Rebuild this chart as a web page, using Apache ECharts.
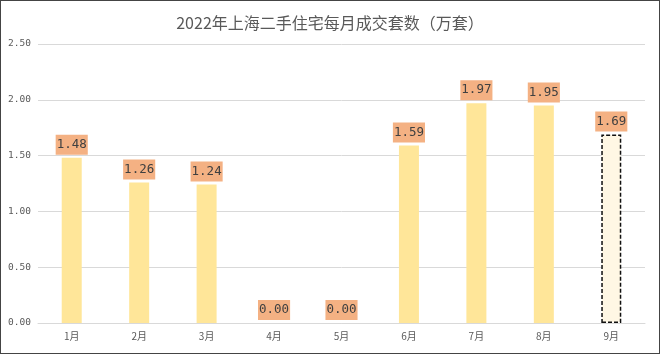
<!DOCTYPE html>
<html>
<head>
<meta charset="utf-8">
<script src="https://cdn.jsdelivr.net/npm/echarts@6/dist/echarts.min.js"></script>
<style>
html, body { margin: 0; padding: 0; background: #fff; }
#echart_box { width: 660px; height: 354px; box-sizing: border-box; border: 1px solid #444; }
</style>
</head>
<body>
<div id="echart_box"></div>
<script>
let months = ['1月', '2月', '3月', '4月', '5月', '6月', '7月', '8月', '9月']
let values = [1.48, 1.26, 1.24, 0.00, 0.00, 1.59, 1.97, 1.95, 1.69]
let estimatedIndex = 8   // 9月 是预估值，虚线框

let myChart = echarts.init(document.getElementById('echart_box'))
let barData = values.map((v, i) => {
    if (i === estimatedIndex) {
        return {
            value: v,
            itemStyle: {
                color: '#FFF7E4',
                borderColor: '#111',
                borderWidth: 1.5,
                borderType: [4, 2]
            }
        }
    }
    return v
})
let option = {
    title: {
        text: '2022年上海二手住宅每月成交套数（万套）',
        left: 'center',
        top: 9,
        textStyle: {
            fontFamily: 'Noto Sans CJK SC',
            fontSize: 16,
            fontWeight: 'normal',
            color: '#595959'
        }
    },
    grid: {
        left: 37,
        right: 14,
        top: 43,
        bottom: 30
    },
    xAxis: {
        type: 'category',
        data: months,
        axisLine: { lineStyle: { color: '#d9d9d9' } },
        axisTick: { show: false },
        axisLabel: {
            color: '#595959',
            fontSize: 10,
            fontFamily: 'Noto Sans CJK SC',
            margin: 8
        }
    },
    yAxis: {
        type: 'value',
        min: 0,
        max: 2.5,
        interval: 0.5,
        axisLine: { show: false },
        axisTick: { show: false },
        splitLine: { lineStyle: { color: '#d9d9d9' } },
        axisLabel: {
            color: '#595959',
            fontSize: 9.5,
            fontFamily: 'DejaVu Sans Mono',
            margin: 7,
            formatter: function (v) { return v.toFixed(2) }
        }
    },
    series: [
        {
            type: 'bar',
            data: barData,
            barWidth: 20,
            itemStyle: { color: '#FFE699' },
            label: {
                show: true,
                position: 'top',
                distance: 3,
                formatter: function (p) { return p.value.toFixed(2) },
                backgroundColor: '#F4B183',
                color: '#404040',
                fontSize: 12.5,
                fontFamily: 'DejaVu Sans Mono',
                padding: [3, 1, 3, 1],
                lineHeight: 14
            }
        }
    ]
}
myChart.setOption(option)
</script>
</body>
</html>
